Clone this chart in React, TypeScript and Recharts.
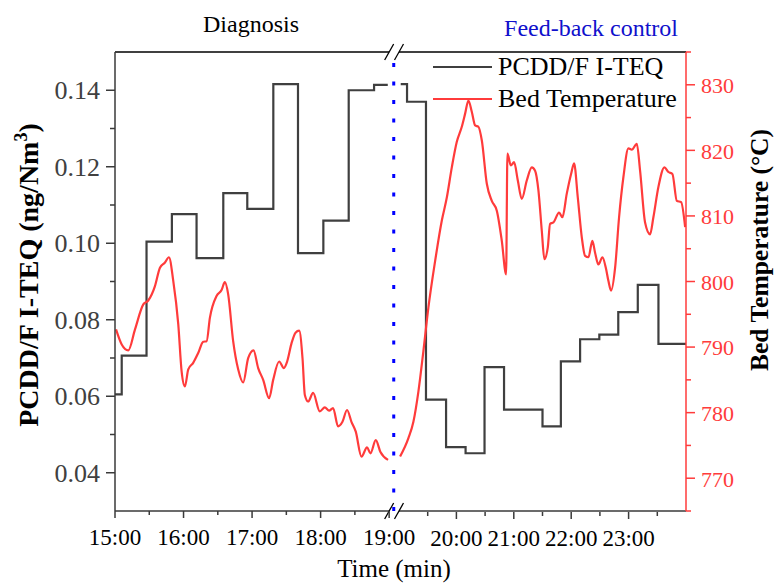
import React from 'react';
import { LineChart, Line, XAxis, YAxis, ReferenceLine, Legend } from 'recharts';

// ---------- data ----------
// PCDD/F I-TEQ step values (ng/Nm3), time in decimal hours
const TEQ_L_TIME = [15.0, 15.098, 15.46, 15.83, 16.19, 16.58, 16.93, 17.31, 17.67, 18.04, 18.41, 18.78, 18.98];
const TEQ_L_VAL = [0.0605, 0.0706, 0.1004, 0.1076, 0.0961, 0.1131, 0.109, 0.1416, 0.0974, 0.1059, 0.14, 0.1414, 0.1414];
const TEQ_R_TIME = [19.03, 19.14, 19.47, 19.82, 20.16, 20.49, 20.83, 21.5, 21.82, 22.155, 22.49, 22.82, 23.16, 23.52, 24.0];
const TEQ_R_VAL = [0.1416, 0.137, 0.0591, 0.0467, 0.0451, 0.0676, 0.0565, 0.0521, 0.0691, 0.0749, 0.0761, 0.082, 0.0891, 0.0737, 0.0737];

// Bed temperature (°C)
const TEMP_L_TIME = [15.015, 15.098, 15.194, 15.292, 15.413, 15.485, 15.583, 15.656, 15.729, 15.787, 15.85, 15.923, 15.972, 16.02, 16.069, 16.141, 16.214, 16.287, 16.337, 16.385, 16.482, 16.555, 16.603, 16.652, 16.724, 16.797, 16.87, 16.943, 17.021, 17.089, 17.162, 17.249, 17.308, 17.395, 17.464, 17.512, 17.576, 17.634, 17.687, 17.736, 17.77, 17.818, 17.891, 17.988, 18.061, 18.124, 18.182, 18.255, 18.319, 18.386, 18.45, 18.513, 18.596, 18.678, 18.727, 18.805, 18.873, 18.984];
const TEMP_L_VAL = [792.7, 790.4, 789.5, 792.7, 796.5, 797.1, 799.3, 802.1, 802.9, 803.7, 800.1, 793.5, 786.3, 784.0, 786.6, 787.6, 789.1, 790.8, 790.9, 794.5, 797.8, 798.7, 799.9, 798.0, 790.9, 786.6, 784.6, 788.3, 789.5, 786.8, 785.0, 782.2, 785.0, 787.8, 786.8, 787.8, 790.6, 792.2, 792.5, 788.3, 782.7, 781.7, 783.0, 780.2, 780.8, 780.3, 780.7, 777.9, 778.6, 780.4, 778.6, 777.1, 773.3, 774.7, 773.8, 775.8, 774.0, 772.8];
const TEMP_R_TIME = [19.019, 19.164, 19.251, 19.338, 19.425, 19.512, 19.629, 19.746, 19.833, 19.92, 20.007, 20.094, 20.152, 20.209, 20.268, 20.326, 20.383, 20.443, 20.53, 20.617, 20.704, 20.791, 20.866, 20.889, 20.948, 21.005, 21.07, 21.139, 21.226, 21.314, 21.371, 21.429, 21.488, 21.533, 21.592, 21.632, 21.69, 21.789, 21.847, 21.923, 21.998, 22.05, 22.115, 22.185, 22.242, 22.3, 22.369, 22.416, 22.474, 22.544, 22.603, 22.648, 22.695, 22.765, 22.834, 22.909, 22.997, 23.056, 23.143, 23.2, 23.287, 23.374, 23.432, 23.519, 23.624, 23.693, 23.763, 23.84, 23.915, 23.985];
const TEMP_R_VAL = [773.3, 776.1, 778.6, 783.2, 789.4, 796.0, 803.1, 809.3, 812.8, 817.4, 821.3, 823.6, 825.6, 827.6, 825.9, 823.8, 823.6, 821.5, 814.9, 812.3, 810.8, 806.2, 801.1, 819.5, 817.7, 818.2, 815.4, 812.6, 815.4, 817.4, 816.9, 813.9, 807.7, 803.4, 805.2, 808.8, 809.0, 810.5, 809.8, 813.4, 816.4, 818.0, 812.8, 806.7, 803.9, 803.7, 806.2, 804.4, 802.6, 803.7, 802.1, 800.1, 798.6, 802.1, 809.8, 815.9, 820.3, 820.1, 821.0, 816.9, 809.0, 807.2, 809.8, 814.4, 817.4, 816.7, 816.4, 812.3, 812.1, 808.3];

// axes
const X_L_DOMAIN = [15, 19.1];
const X_R_DOMAIN = [19, 24];
const X_L_MAJOR = [15, 16, 17, 18, 19];
const X_L_MINOR = [15.5, 16.5, 17.5, 18.5];
const X_R_MAJOR = [20, 21, 22, 23];
const X_R_MINOR = [19.5, 20.5, 21.5, 22.5, 23.5];
const TEQ_DOMAIN = [0.03, 0.15];
const TEQ_MAJOR = [0.04, 0.06, 0.08, 0.1, 0.12, 0.14];
const TEQ_MINOR = [0.05, 0.07, 0.09, 0.11, 0.13];
const TEMP_DOMAIN = [765, 835];
const TEMP_MAJOR = [770, 780, 790, 800, 810, 820, 830];
const TEMP_MINOR = [765, 775, 785, 795, 805, 815, 825, 835];
const BREAK_T = 19;
const FEEDBACK_T = 19.067;

const SERIES_TEQ = 'PCDD/F I-TEQ';
const SERIES_TEMP = 'Bed Temperature';
const LEGEND_ORDER = [SERIES_TEQ, SERIES_TEMP];

// ---------- build tables ----------
const zip = (ts: number[], vs: number[]) => ts.map((t, i) => ({ t, v: vs[i] }));
const teqL = zip(TEQ_L_TIME, TEQ_L_VAL);
const teqR = zip(TEQ_R_TIME, TEQ_R_VAL);
const tempL = zip(TEMP_L_TIME, TEMP_L_VAL);
const tempR = zip(TEMP_R_TIME, TEMP_R_VAL);

// ---------- styles ----------
const SERIF = '"Liberation Serif", "Times New Roman", serif';
const BLACK_LINE = '#3f3f3f';
const RED = '#ff3b3b';
const AXIS_GRAY = '#3a3a3a';

const makeXTick = (majors: number[]) => (p: any) => {
  const { x, y, payload } = p;
  const major = majors.includes(payload.value);
  return (
    <g>
      <line x1={x} x2={x} y1={y} y2={y + (major ? 7 : 4)} stroke={AXIS_GRAY} strokeWidth={1.5} />
      {major && (
        <text x={x} y={y + 34} textAnchor="middle" fontFamily={SERIF} fontSize={23} fill="#000">
          {`${payload.value}:00`}
        </text>
      )}
    </g>
  );
};

const leftTick = (p: any) => {
  const { x, y, payload } = p;
  const major = TEQ_MAJOR.includes(payload.value);
  return (
    <g>
      <line x1={x - (major ? 9 : 5)} x2={x} y1={y} y2={y} stroke={AXIS_GRAY} strokeWidth={1.5} />
      {major && (
        <text x={x - 15} y={y + 8.8} textAnchor="end" fontFamily={SERIF} fontSize={26} fill="#404040">
          {Number(payload.value).toFixed(2)}
        </text>
      )}
    </g>
  );
};

const rightTick = (p: any) => {
  const { x, y, payload } = p;
  const major = TEMP_MAJOR.includes(payload.value);
  return (
    <g>
      <line x1={x} x2={x + (major ? 9 : 5)} y1={y} y2={y} stroke={RED} strokeWidth={1.5} />
      {major && (
        <text x={x + 15} y={y + 8.3} textAnchor="start" fontFamily={SERIF} fontSize={22} fill={RED}>
          {payload.value}
        </text>
      )}
    </g>
  );
};

const renderLegend = (props: any) => {
  const payload = (props.payload || [])
    .filter((e: any) => LEGEND_ORDER.includes(e.value))
    .sort((a: any, b: any) => LEGEND_ORDER.indexOf(a.value) - LEGEND_ORDER.indexOf(b.value));
  return (
    <div style={{ fontFamily: SERIF, fontSize: 26, color: '#000' }}>
      {payload.map((e: any) => (
        <div key={e.value} style={{ height: 32, lineHeight: '32px', display: 'flex', alignItems: 'center', whiteSpace: 'nowrap' }}>
          <svg width={59} height={32} style={{ marginRight: 6, flex: 'none' }}>
            <line x1={0} x2={59} y1={16} y2={16} stroke={e.color} strokeWidth={2} />
          </svg>
          <span>{e.value}</span>
        </div>
      ))}
    </div>
  );
};

const dtL = 4.5 / 68.54;
const dtR = 4.5 / 57.4;
const dv = 8 / 3825;

export default function App() {
  return (
    <div style={{ position: 'absolute', left: 0, top: 0, background: '#fff' }}>
      <LineChart width={777} height={583} margin={{ top: 52, right: 31, bottom: 70, left: 55 }}>
        <XAxis
          xAxisId="L"
          dataKey="t"
          type="number"
          domain={X_L_DOMAIN}
          allowDataOverflow
          ticks={[...X_L_MAJOR, ...X_L_MINOR]}
          interval={0}
          padding={{ left: 0, right: 290 }}
          height={1}
          axisLine={false}
          tickLine={false}
          tickSize={0}
          tickMargin={0}
          tick={makeXTick(X_L_MAJOR)}
        />
        <XAxis
          xAxisId="R"
          dataKey="t"
          type="number"
          domain={X_R_DOMAIN}
          allowDataOverflow
          ticks={[...X_R_MAJOR, ...X_R_MINOR]}
          interval={0}
          padding={{ left: 284, right: 0 }}
          height={1}
          axisLine={false}
          tickLine={false}
          tickSize={0}
          tickMargin={0}
          tick={makeXTick(X_R_MAJOR)}
        />
        <YAxis
          yAxisId="left"
          type="number"
          domain={TEQ_DOMAIN}
          allowDataOverflow
          ticks={[...TEQ_MAJOR, ...TEQ_MINOR]}
          interval={0}
          width={60}
          axisLine={{ stroke: AXIS_GRAY, strokeWidth: 1.5 }}
          tickLine={false}
          tickSize={0}
          tickMargin={0}
          tick={leftTick}
        />
        <YAxis
          yAxisId="right"
          orientation="right"
          type="number"
          domain={TEMP_DOMAIN}
          allowDataOverflow
          ticks={[...TEMP_MAJOR, ...TEMP_MINOR]}
          interval={0}
          width={60}
          axisLine={{ stroke: RED, strokeWidth: 1.5 }}
          tickLine={false}
          tickSize={0}
          tickMargin={0}
          tick={rightTick}
        />

        {/* frame segments with axis break */}
        <ReferenceLine xAxisId="L" yAxisId="left" ifOverflow="visible" stroke={AXIS_GRAY} strokeWidth={1.5}
          segment={[{ x: X_L_DOMAIN[0], y: TEQ_DOMAIN[0] }, { x: BREAK_T, y: TEQ_DOMAIN[0] }]} />
        <ReferenceLine xAxisId="R" yAxisId="left" ifOverflow="visible" stroke={AXIS_GRAY} strokeWidth={1.5}
          segment={[{ x: BREAK_T, y: TEQ_DOMAIN[0] }, { x: X_R_DOMAIN[1], y: TEQ_DOMAIN[0] }]} />
        <ReferenceLine xAxisId="L" yAxisId="left" ifOverflow="visible" stroke="#000" strokeWidth={1.5}
          segment={[{ x: X_L_DOMAIN[0], y: TEQ_DOMAIN[1] }, { x: BREAK_T, y: TEQ_DOMAIN[1] }]} />
        <ReferenceLine xAxisId="R" yAxisId="left" ifOverflow="visible" stroke="#000" strokeWidth={1.5}
          segment={[{ x: BREAK_T, y: TEQ_DOMAIN[1] }, { x: X_R_DOMAIN[1], y: TEQ_DOMAIN[1] }]} />
        {[TEQ_DOMAIN[0], TEQ_DOMAIN[1]].map((yv) => (
          <ReferenceLine key={'bl' + yv} xAxisId="L" yAxisId="left" ifOverflow="visible" stroke="#000" strokeWidth={1.3}
            segment={[{ x: BREAK_T - dtL, y: yv - dv }, { x: BREAK_T + dtL, y: yv + dv }]} />
        ))}
        {[TEQ_DOMAIN[0], TEQ_DOMAIN[1]].map((yv) => (
          <ReferenceLine key={'br' + yv} xAxisId="R" yAxisId="left" ifOverflow="visible" stroke="#000" strokeWidth={1.3}
            segment={[{ x: BREAK_T - dtR, y: yv - dv }, { x: BREAK_T + dtR, y: yv + dv }]} />
        ))}

        <Line xAxisId="L" yAxisId="left" data={teqL} dataKey="v" name={SERIES_TEQ} type="stepAfter"
          stroke={BLACK_LINE} strokeWidth={2.2} dot={false} activeDot={false} isAnimationActive={false} />
        <Line xAxisId="L" yAxisId="right" data={tempL} dataKey="v" name={SERIES_TEMP} type="monotone"
          stroke={RED} strokeWidth={2.2} dot={false} activeDot={false} isAnimationActive={false} />
        <Line xAxisId="R" yAxisId="left" data={teqR} dataKey="v" name={SERIES_TEQ + ' '} type="stepAfter" legendType="none"
          stroke={BLACK_LINE} strokeWidth={2.2} dot={false} activeDot={false} isAnimationActive={false} />
        <Line xAxisId="R" yAxisId="right" data={tempR} dataKey="v" name={SERIES_TEMP + ' '} type="monotone" legendType="none"
          stroke={RED} strokeWidth={2.2} dot={false} activeDot={false} isAnimationActive={false} />

        <ReferenceLine xAxisId="L" yAxisId="left" x={FEEDBACK_T} stroke="#0000ff" strokeWidth={3} strokeDasharray="4 14.5" />

        <Legend layout="vertical" align="center" verticalAlign="middle" content={renderLegend}
          wrapperStyle={{ left: 433, top: 51, width: 280 }} />

        <text x={251} y={32} textAnchor="middle" fontFamily={SERIF} fontSize={24} fill="#000">Diagnosis</text>
        <text x={591} y={36} textAnchor="middle" fontFamily={SERIF} fontSize={24} fill="#1010cc">Feed-back control</text>
        <text x={394} y={577} textAnchor="middle" fontFamily={SERIF} fontSize={25} fill="#000">Time (min)</text>
        <text transform="translate(38,275) rotate(-90)" textAnchor="middle" fontFamily={SERIF} fontSize={28} fontWeight="bold" fill="#000">
          PCDD/F I-TEQ (ng/Nm<tspan fontSize={18} dy={-11}>3</tspan><tspan dy={11}>)</tspan>
        </text>
        <text transform="translate(768,250) rotate(-90)" textAnchor="middle" fontFamily={SERIF} fontSize={25.5} fontWeight="bold" fill="#000">
          Bed Temperature (°C)
        </text>
      </LineChart>
    </div>
  );
}
